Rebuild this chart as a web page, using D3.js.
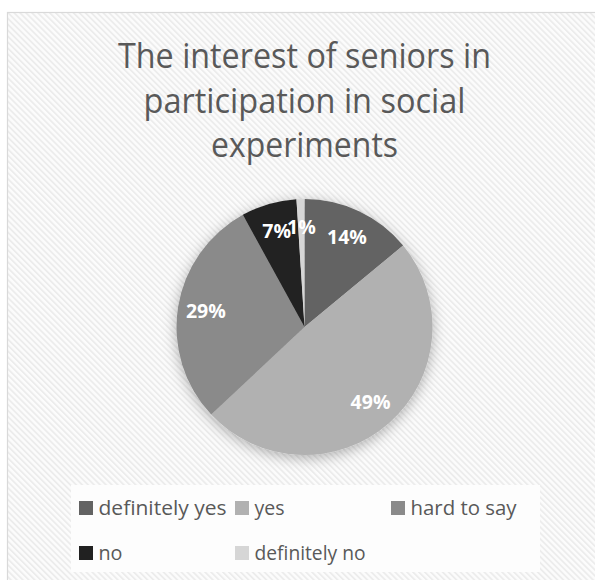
<!DOCTYPE html>
<html>
<head>
<meta charset="utf-8">
<script src="https://cdn.jsdelivr.net/npm/d3@7/dist/d3.min.js"></script>
<style>
  html, body { margin: 0; padding: 0; background: #ffffff; }
  svg { display: block; }
</style>
</head>
<body>
<script>
// Survey answers and their shares (%)
const categories = ["definitely yes", "yes", "hard to say", "no", "definitely no"];
const shares = [14, 49, 29, 7, 1];
const sliceColors = ["#636363", "#b1b1b1", "#8a8a8a", "#212121", "#d6d6d6"];
const titleLines = ["The interest of seniors in", "participation in social", "experiments"];

const W = 595, H = 580;
const svg = d3.select("body").append("svg").attr("width", W).attr("height", H);
const defs = svg.append("defs");

// light diagonal hatch used for the chart area
const pat = defs.append("pattern")
  .attr("id", "hatch").attr("patternUnits", "userSpaceOnUse")
  .attr("width", 4.2).attr("height", 4.2)
  .attr("patternTransform", "rotate(-45)");
pat.append("rect").attr("width", 4.2).attr("height", 4.2).attr("fill", "#fcfcfc");
pat.append("rect").attr("width", 1.8).attr("height", 4.2).attr("fill", "#ececec");

// soft shadow around the pie
const f = defs.append("filter").attr("id", "pieShadow")
  .attr("x", "-30%").attr("y", "-30%").attr("width", "160%").attr("height", "160%");
f.append("feDropShadow").attr("dx", 0).attr("dy", 3).attr("stdDeviation", 7)
  .attr("flood-color", "#000").attr("flood-opacity", 0.3);

// chart area
svg.append("rect").attr("x", 7.5).attr("y", 12.5).attr("width", W).attr("height", H)
  .attr("fill", "url(#hatch)").attr("stroke", "#d9d9d9").attr("stroke-width", 1.2);

const font = "'Open Sans', Lato, sans-serif";

// title
const titleWidths = [373, 322, 187];
svg.append("g").selectAll("text").data(titleLines).join("text")
  .attr("x", 304.5).attr("y", (d, i) => 68 + i * 44.5)
  .attr("text-anchor", "middle")
  .attr("font-family", font).attr("font-size", 35)
  .attr("fill", "#595959")
  .attr("textLength", (d, i) => titleWidths[i])
  .attr("lengthAdjust", "spacingAndGlyphs")
  .text(d => d);

// pie
const cx = 304.5, cy = 327, R = 128;
const pie = d3.pie().value(d => d).sort(null);
const arcs = pie(shares);
const arc = d3.arc().innerRadius(0).outerRadius(R);
const labelArc = d3.arc().innerRadius(R * 0.78).outerRadius(R * 0.78);

const g = svg.append("g").attr("transform", `translate(${cx},${cy})`);
g.append("g").attr("filter", "url(#pieShadow)")
  .selectAll("path").data(arcs).join("path")
  .attr("d", arc)
  .attr("fill", (d, i) => sliceColors[i]);

g.append("g").selectAll("text").data(arcs).join("text")
  .attr("transform", d => `translate(${labelArc.centroid(d)})`)
  .attr("text-anchor", "middle").attr("dy", "0.36em")
  .attr("font-family", font).attr("font-weight", "bold").attr("font-size", 19.5)
  .attr("fill", "#ffffff")
  .text(d => d.data + "%");

// legend
svg.append("rect").attr("x", 71).attr("y", 485).attr("width", 469).attr("height", 87)
  .attr("fill", "#fdfdfd");
const legendX = [79, 235, 391];
const legendY = [501, 546];
const legendTextWidth = [128, 30, 106, 24, 111];
const lg = svg.append("g").selectAll("g").data(categories).join("g")
  .attr("transform", (d, i) => `translate(${legendX[i % 3]},${legendY[Math.floor(i / 3)]})`);
lg.append("rect").attr("width", 14).attr("height", 14).attr("fill", (d, i) => sliceColors[i]);
lg.append("text").attr("x", 19.5).attr("y", 14)
  .attr("font-family", font).attr("font-size", 20).attr("fill", "#595959")
  .attr("textLength", (d, i) => legendTextWidth[i])
  .attr("lengthAdjust", "spacingAndGlyphs")
  .text(d => d);
</script>
</body>
</html>
